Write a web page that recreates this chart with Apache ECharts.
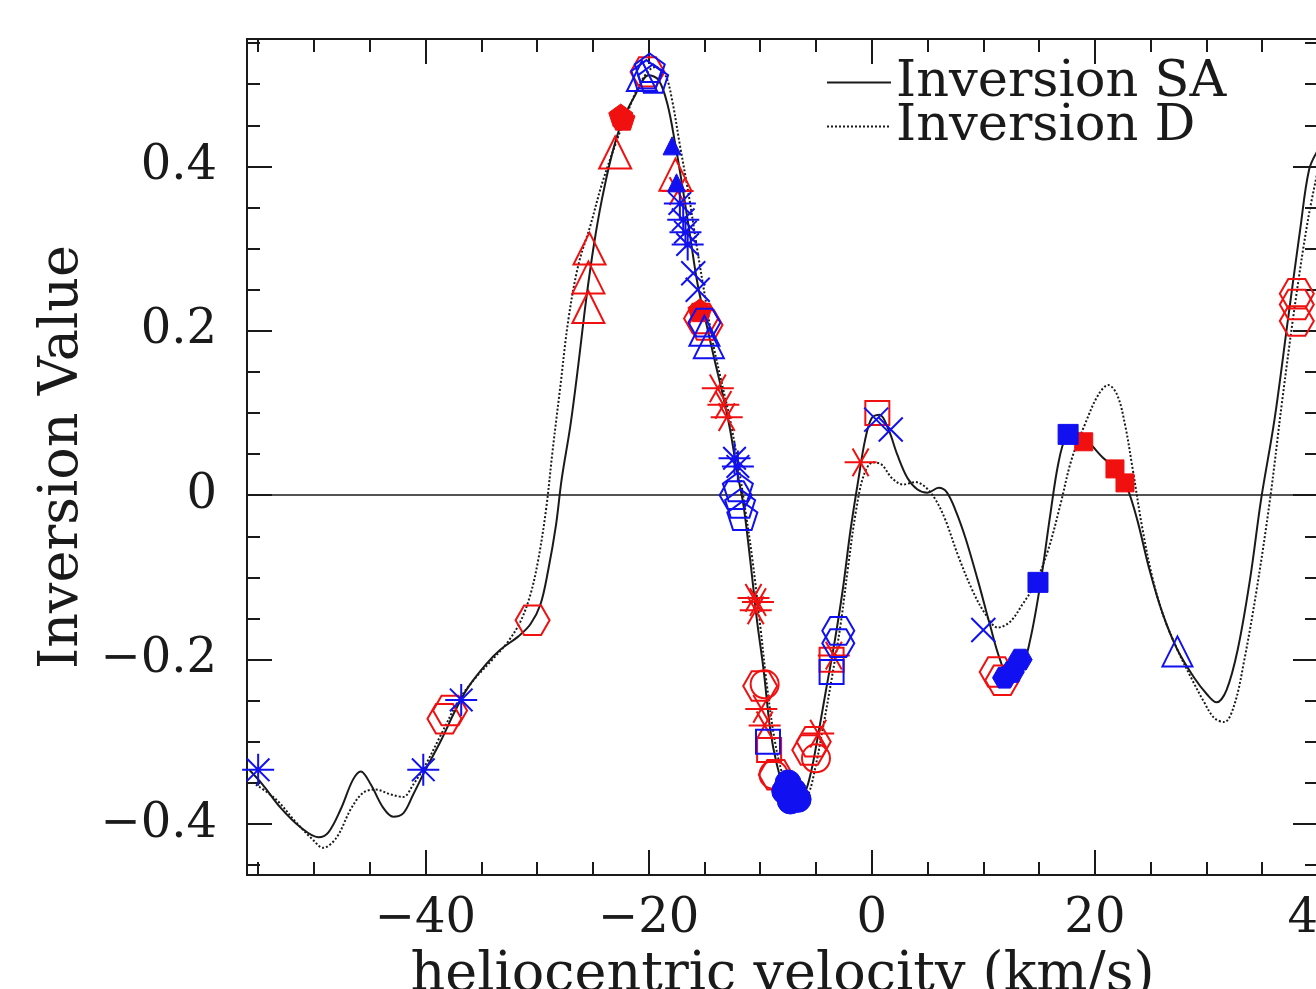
<!DOCTYPE html>
<html>
<head>
<meta charset="utf-8">
<script src="https://cdn.jsdelivr.net/npm/echarts@6.0.0/dist/echarts.min.js"></script>
<style>
  html, body { margin: 0; padding: 0; background: #fff; }
  #chart { width: 1316px; height: 989px; }
</style>
</head>
<body>
<div id="chart"></div>
<script>
// Inversion SA (solid) curve
const saVel = [-55.8, -54.6, -53.0, -51.2, -49.6, -48.7, -47.6, -46.5, -45.8, -44.9, -43.8, -42.9, -42.0, -41.1, -40.0,
  -38.6, -37.3, -36.2, -34.6, -33.3, -31.7, -30.6, -29.7, -29.0, -28.3, -27.8, -27.0, -26.3, -25.6, -24.9, -24.2,
  -23.3, -22.4, -21.2, -20.0, -19.1, -18.3, -17.6, -17.0, -16.3, -15.6, -14.8, -14.1, -13.4, -12.7, -12.1, -11.5,
  -10.9, -10.3, -9.7, -9.1, -8.5, -7.8, -7.1, -6.2, -5.5, -4.8, -4.1, -3.3, -2.6, -1.9, -1.2, -0.6, 0.0, 0.7, 1.5,
  2.3, 3.2, 4.1, 5.0, 6.0, 6.7, 7.5, 8.4, 9.5, 10.6, 11.5, 12.4, 13.3, 14.2, 15.1, 16.0, 16.7, 17.4, 18.2, 19.4,
  20.7, 22.0, 22.9, 23.8, 24.9, 26.1, 27.4, 28.9, 30.1, 30.9, 31.8, 32.8, 33.9, 34.9, 36.1, 37.3, 38.4, 39.2, 40.0];
const saVal = [-0.334, -0.352, -0.380, -0.404, -0.416, -0.410, -0.382, -0.346, -0.336, -0.352, -0.380, -0.391, -0.387, -0.364, -0.334,
  -0.298, -0.261, -0.234, -0.206, -0.188, -0.172, -0.157, -0.133, -0.091, -0.036, 0.019, 0.086, 0.159, 0.238, 0.305, 0.359,
  0.414, 0.454, 0.487, 0.511, 0.505, 0.475, 0.426, 0.378, 0.317, 0.256, 0.207, 0.165, 0.125, 0.080, 0.031, -0.012,
  -0.078, -0.151, -0.212, -0.285, -0.328, -0.358, -0.370, -0.367, -0.340, -0.291, -0.237, -0.176, -0.115, -0.042, 0.019, 0.067, 0.094, 0.098, 0.080,
  0.049, 0.021, 0.007, 0.003, 0.009, 0.004, -0.018, -0.052, -0.103, -0.158, -0.200, -0.224, -0.218, -0.176, -0.109, -0.024, 0.037, 0.071, 0.077, 0.065,
  0.046, 0.031, 0.009, -0.030, -0.091, -0.145, -0.188, -0.222, -0.243, -0.252, -0.237, -0.188, -0.103, -0.005, 0.092, 0.213, 0.323, 0.396, 0.420];

// Inversion D (dotted) curve
const dVel = [-55.2, -53.4, -51.6, -50.1, -49.2, -48.0, -46.7, -45.6, -44.5, -43.1, -42.0, -41.1, -40.0, -38.6, -37.0,
  -35.5, -34.0, -32.6, -31.5, -30.6, -29.9, -29.2, -28.6, -27.9, -27.2, -26.3, -25.2, -24.2, -23.0, -21.8, -20.6,
  -19.4, -18.5, -17.9, -17.2, -16.4, -15.7, -14.9, -14.2, -13.4, -12.7, -12.0, -11.4, -10.7, -10.0, -9.4, -8.7,
  -8.0, -7.3, -6.4, -5.7, -5.1, -4.4, -3.6, -2.8, -2.1, -1.4, -0.7, 0.1, 0.9, 1.8, 2.8, 3.9, 4.8, 5.7, 6.6, 7.7,
  9.0, 10.2, 11.3, 12.4, 13.5, 14.6, 15.8, 16.9, 17.9, 19.1, 20.3, 21.2, 22.0, 22.7, 23.4, 24.2, 25.1, 26.1, 27.4,
  28.7, 29.8, 30.7, 31.6, 32.5, 33.4, 34.5, 35.7, 36.8, 38.0, 39.1, 40.0];
const dVal = [-0.352, -0.370, -0.398, -0.419, -0.429, -0.417, -0.382, -0.362, -0.358, -0.364, -0.367, -0.352, -0.328, -0.291, -0.249,
  -0.222, -0.200, -0.178, -0.154, -0.121, -0.079, -0.018, 0.055, 0.134, 0.213, 0.280, 0.329, 0.378, 0.426, 0.469, 0.505,
  0.521, 0.511, 0.481, 0.426, 0.365, 0.304, 0.238, 0.183, 0.134, 0.092, 0.040, -0.012, -0.078, -0.158, -0.231, -0.298,
  -0.340, -0.364, -0.373, -0.364, -0.334, -0.285, -0.224, -0.158, -0.085, -0.018, 0.025, 0.040, 0.037, 0.021, 0.013, 0.016, 0.010, -0.005, -0.030, -0.072,
  -0.115, -0.145, -0.161, -0.154, -0.133, -0.109, -0.067, -0.012, 0.043, 0.086, 0.122, 0.134, 0.122, 0.086, 0.031, -0.036, -0.097, -0.145, -0.188,
  -0.224, -0.252, -0.271, -0.276, -0.255, -0.200, -0.115, -0.005, 0.116, 0.238, 0.335, 0.396];

// measured points, grouped by marker
const redHexOpen = [[-38.3, -0.272], [-37.8, -0.262], [-30.4, -0.152], [-20.1, 0.515], [-15.3, 0.215], [-14.9, 0.207],
  [-10.0, -0.232], [-8.6, -0.34], [-5.6, -0.31], [-5.2, -0.30], [11.2, -0.215], [11.7, -0.225], [38.1, 0.245], [38.1, 0.232], [38.1, 0.212]];
const redTriOpen = [[-25.4, 0.229], [-25.4, 0.265], [-25.3, 0.300], [-23.0, 0.417], [-17.6, 0.39]];
const redPentFilled = [[-22.5, 0.462], [-22.3, 0.458], [-15.4, 0.225]];
const bluePentOpen = [[-20.2, 0.512], [-19.6, 0.507], [-19.9, 0.52], [-12.0, 0.01], [-11.8, -0.01], [-11.6, -0.025]];
const blueTriOpen = [[-20.6, 0.51], [-15.0, 0.2], [-14.6, 0.185], [27.4, -0.19]];
const blueTriFilled = [[-17.9, 0.425], [-17.5, 0.38]];
const blueAst = [[-55.0, -0.334], [-40.2, -0.334], [-36.8, -0.249], [-17.2, 0.355], [-16.9, 0.335], [-16.7, 0.32], [-16.5, 0.305],
  [-12.0, 0.035], [-12.3, 0.045]];
const blueX = [[-16.0, 0.27], [-15.6, 0.25], [0.4, 0.092], [1.7, 0.08], [10.0, -0.164]];
const redStar = [[-17.4, 0.37], [-13.8, 0.13], [-13.3, 0.11], [-13.0, 0.095], [-10.6, -0.125], [-10.4, -0.14], [-10.2, -0.13],
  [-9.9, -0.26], [-9.6, -0.28], [-4.8, -0.29], [-3.4, -0.195], [-1.0, 0.04]];
const redSquareOpen = [[0.5, 0.1], [-3.6, -0.2], [-9.2, -0.31]];
const blueSquareOpen = [[-9.3, -0.3], [-3.6, -0.215]];
const blueHexOpen = [[-15.0, 0.21], [-12.2, 0.0], [-3.0, -0.165], [-3.0, -0.18]];
const redCircleOpen = [[-9.6, -0.23], [-8.8, -0.34], [-5.0, -0.32]];
const blueCircleFilled = [[-7.8, -0.36], [-7.3, -0.372], [-7.0, -0.36], [-6.6, -0.37], [-7.5, -0.35]];
const blueHexFilled = [[11.9, -0.222], [12.6, -0.215], [13.3, -0.2]];
const blueSquareFilled = [[14.9, -0.106], [17.6, 0.074]];
const redSquareFilled = [[19.0, 0.065], [21.8, 0.032], [22.7, 0.015]];

const xMajor = [-40, -20, 0, 20, 40];
const xMinor = [-55, -50, -45, -35, -30, -25, -15, -10, -5, 5, 10, 15, 25, 30, 35];
const yMajor = [-0.4, -0.2, 0, 0.2, 0.4];
const yMinor = [-0.45, -0.35, -0.3, -0.25, -0.15, -0.1, -0.05, 0.05, 0.1, 0.15, 0.25, 0.3, 0.35, 0.45, 0.5, 0.55];

const RED = '#f01010';
const BLUE = '#1010f0';
const INK = '#1a1a1a';
const FONT = 'DejaVu Serif';

const HEX = 'path://M-10,0 L-5,-8.66 L5,-8.66 L10,0 L5,8.66 L-5,8.66 Z';
const PENT = 'path://M0,-10 L9.51,-3.09 L5.88,8.09 L-5.88,8.09 L-9.51,-3.09 Z';
const AST = 'path://M-10,0 L10,0 M0,-10 L0,10 M-7.07,-7.07 L7.07,7.07 M-7.07,7.07 L7.07,-7.07';
const STAR6 = 'path://M-10,0 L10,0 M-5,-8.66 L5,8.66 M-5,8.66 L5,-8.66';
const CROSS = 'path://M-10,-10 L10,10 M-10,10 L10,-10';

const minus = v => (v < 0 ? '\u2212' + Math.abs(v) : String(v));

function markers(data, symbol, size, color, filled) {
  return {
    type: 'scatter',
    data: data,
    symbol: symbol,
    symbolSize: size,
    symbolKeepAspect: true,
    z: 5,
    silent: true,
    itemStyle: filled
      ? { color: color, borderColor: color, borderWidth: 1, opacity: 1 }
      : { color: 'rgba(0,0,0,0)', borderColor: color, borderWidth: 2, opacity: 1 }
  };
}

function xAxisDef(pos, ticks, len, labels) {
  return {
    type: 'value', position: pos, min: -56, max: 40,
    axisLine: { show: true, onZero: false, lineStyle: { color: INK, width: 2 } },
    axisTick: { show: true, inside: true, length: len, customValues: ticks, lineStyle: { color: INK, width: 2 } },
    axisLabel: labels
      ? { show: true, customValues: ticks, formatter: minus, fontFamily: FONT, fontSize: 48, color: INK, margin: 21 }
      : { show: false },
    splitLine: { show: false }
  };
}

function yAxisDef(pos, ticks, len, labels) {
  return {
    type: 'value', position: pos, min: -0.462, max: 0.555,
    axisLine: { show: true, onZero: false, lineStyle: { color: INK, width: 2 } },
    axisTick: { show: true, inside: true, length: len, customValues: ticks, lineStyle: { color: INK, width: 2 } },
    axisLabel: labels
      ? { show: true, customValues: ticks, formatter: minus, fontFamily: FONT, fontSize: 48, color: INK, margin: 30 }
      : { show: false },
    splitLine: { show: false }
  };
}

const chart = echarts.init(document.getElementById('chart'));

const xAxes = [
  xAxisDef('bottom', xMajor, 25, true),
  xAxisDef('bottom', xMinor, 13, false),
  xAxisDef('top', xMajor, 25, false),
  xAxisDef('top', xMinor, 13, false)
];
xAxes[0].name = 'heliocentric velocity (km/s)';
xAxes[0].nameLocation = 'middle';
xAxes[0].nameGap = 68;
xAxes[0].nameTextStyle = { fontFamily: FONT, fontSize: 54, color: INK };

const yAxes = [
  yAxisDef('left', yMajor, 25, true),
  yAxisDef('left', yMinor, 13, false),
  yAxisDef('right', yMajor, 25, false),
  yAxisDef('right', yMinor, 13, false)
];
yAxes[0].name = 'Inversion Value';
yAxes[0].nameLocation = 'middle';
yAxes[0].nameGap = 150;
yAxes[0].nameTextStyle = { fontFamily: FONT, fontSize: 54, color: INK };

chart.setOption({
  animation: false,
  backgroundColor: '#fff',
  grid: { left: 247, top: 39, width: 1071, height: 836, containLabel: false, outerBoundsMode: 'none' },
  legend: {
    orient: 'vertical',
    left: 821, top: 52,
    itemWidth: 64, itemHeight: 14, itemGap: -7,
    itemStyle: { opacity: 0 },
    textStyle: { fontFamily: FONT, fontSize: 51, color: INK, lineHeight: 43, padding: 0 },
    data: ['Inversion SA', 'Inversion D']
  },
  xAxis: xAxes,
  yAxis: yAxes,
  series: [
    {
      name: 'Inversion SA', type: 'line', smooth: 0.35, showSymbol: false, symbol: 'none',
      data: saVel.map((v, i) => [v, saVal[i]]),
      lineStyle: { color: INK, width: 2 }, itemStyle: { color: INK }, z: 3,
      markLine: {
        silent: true, symbol: 'none', label: { show: false },
        lineStyle: { color: INK, width: 1.6, type: 'solid' },
        data: [{ yAxis: 0 }]
      }
    },
    {
      name: 'Inversion D', type: 'line', smooth: 0.35, showSymbol: false, symbol: 'none',
      data: dVel.map((v, i) => [v, dVal[i]]),
      lineStyle: { color: INK, width: 2, type: 'dotted' }, itemStyle: { color: INK }, z: 3
    },
    markers(redHexOpen, HEX, 34, RED, false),
    markers(redTriOpen, 'triangle', 32, RED, false),
    markers(redPentFilled, PENT, 24, RED, true),
    markers(redStar, STAR6, 32, RED, false),
    markers(redSquareOpen, 'rect', 24, RED, false),
    markers(redCircleOpen, 'circle', 28, RED, false),
    markers(redSquareFilled, 'rect', 18, RED, true),
    markers(bluePentOpen, PENT, 30, BLUE, false),
    markers(blueTriOpen, 'triangle', 30, BLUE, false),
    markers(blueTriFilled, 'triangle', 18, BLUE, true),
    markers(blueAst, AST, 32, BLUE, false),
    markers(blueX, CROSS, 24, BLUE, false),
    markers(blueSquareOpen, 'rect', 24, BLUE, false),
    markers(blueHexOpen, HEX, 32, BLUE, false),
    markers(blueCircleFilled, 'circle', 26, BLUE, true),
    markers(blueHexFilled, HEX, 24, BLUE, true),
    markers(blueSquareFilled, 'rect', 20, BLUE, true)
  ]
});
</script>
</body>
</html>
